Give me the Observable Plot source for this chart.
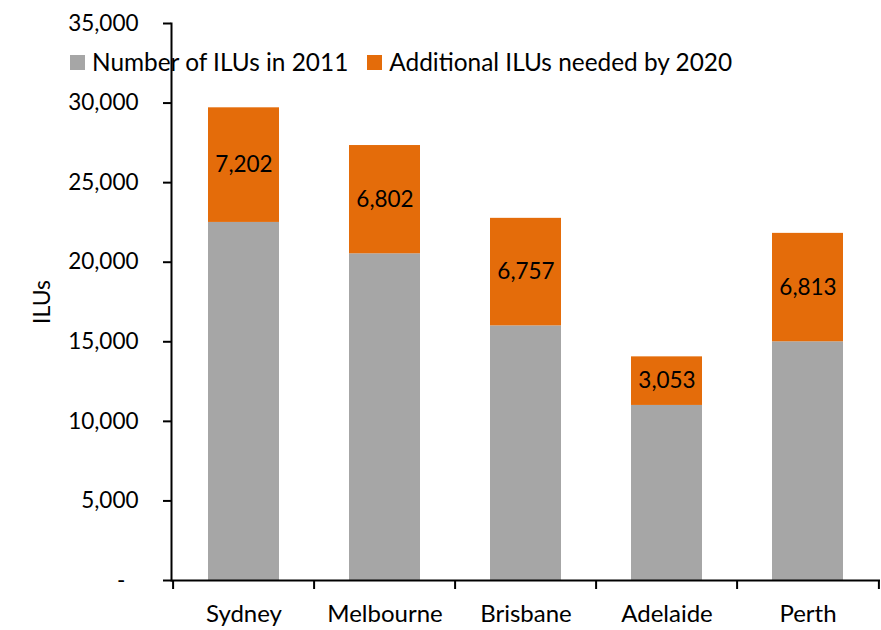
<!DOCTYPE html>
<html><head><meta charset="utf-8">
<script src="https://cdn.jsdelivr.net/npm/d3@7"></script>
<script src="https://cdn.jsdelivr.net/npm/@observablehq/plot@0.6"></script>
<style>
body{margin:0;background:#fff;font-family:Lato,sans-serif;}
#wrap{position:relative;width:881px;height:630px;}
.legend{position:absolute;top:49px;left:70px;display:flex;align-items:center;font-size:24.4px;color:#000;font-family:Lato,sans-serif;line-height:26px;}
.item{display:flex;align-items:center;}
.sw{display:inline-block;width:15px;height:15px;margin-right:7px;}
</style></head><body><div id="wrap"></div>
<script>
const cities = ["Sydney", "Melbourne", "Brisbane", "Adelaide", "Perth"];
const ilus2011 = [22500, 20530, 16000, 11000, 15000];
const additional = [7202, 6802, 6757, 3053, 6813];
const seriesNames = ["Number of ILUs in 2011", "Additional ILUs needed by 2020"];
const seriesColors = ["#A6A6A6", "#E46C0A"];
const yTicks = [0, 5000, 10000, 15000, 20000, 25000, 30000, 35000];
const yLabel = "ILUs";

const rows = [];
cities.forEach((c, i) => {
  rows.push({city: c, series: seriesNames[0], value: ilus2011[i]});
  rows.push({city: c, series: seriesNames[1], value: additional[i]});
});

const W = 881, H = 630, mL = 171, mR = 1;
const step = (W - mL - mR) / cities.length;
const fmt = d3.format(",");

const chart = Plot.plot({
  width: W, height: H,
  marginLeft: mL, marginRight: mR, marginTop: 23, marginBottom: 50,
  style: {fontFamily: "Lato, sans-serif", fontSize: "22px", color: "#000", background: "#fff"},
  x: {type: "band", domain: cities, paddingInner: 0.5, paddingOuter: 0.25, axis: null},
  y: {domain: [0, 35000], axis: null},
  color: {domain: seriesNames, range: seriesColors},
  marks: [
    Plot.barY(rows, {x: "city", y: "value", fill: "series", order: seriesNames}),
    Plot.text(cities, {
      x: d => d,
      y: (d, i) => ilus2011[i] + additional[i] / 2,
      text: (d, i) => fmt(additional[i]),
      fontSize: 22.5, fill: "#000"
    }),
    Plot.axisY({
      ticks: yTicks, tickSize: 8, tickPadding: 25, strokeWidth: 2, fontSize: 22.5,
      tickFormat: d => d === 0 ? "-\u2007" : fmt(d),
      label: null
    }),
    Plot.axisY({
      ticks: [], tickSize: 0, fontSize: 23,
      label: yLabel, labelAnchor: "center", labelOffset: 138, labelArrow: "none"
    }),
    Plot.axisX({tickSize: 0, tickPadding: 24, fontSize: 24, label: null}),
    Plot.axisX({text: null, tickSize: 9, strokeWidth: 2, dx: -step / 2, label: null}),
    Plot.axisX([cities[cities.length - 1]], {text: null, tickSize: 9, strokeWidth: 2, dx: step / 2, label: null}),
    Plot.ruleY([0], {stroke: "#000", strokeWidth: 2}),
    Plot.frame({anchor: "left", stroke: "#000", strokeWidth: 2})
  ]
});

const wrap = document.getElementById("wrap");
wrap.appendChild(chart);
const leg = document.createElement("div");
leg.className = "legend";
seriesNames.forEach((s, i) => {
  const it = document.createElement("span");
  it.className = "item";
  it.style.marginRight = i === 0 ? "19px" : "0";
  const sw = document.createElement("span");
  sw.className = "sw";
  sw.style.background = seriesColors[i];
  it.appendChild(sw);
  it.appendChild(document.createTextNode(s));
  leg.appendChild(it);
});
wrap.appendChild(leg);
</script></body></html>
